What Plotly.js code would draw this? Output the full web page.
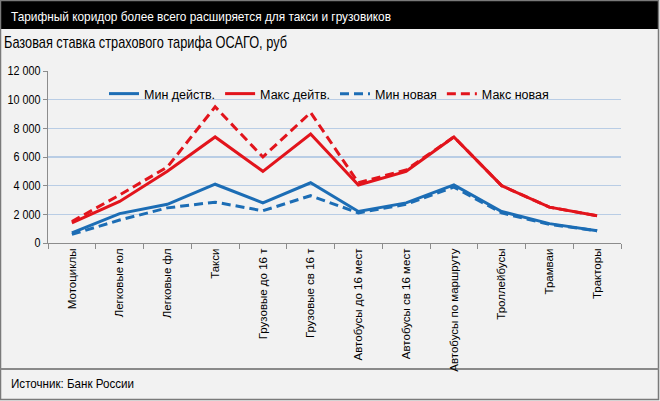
<!DOCTYPE html>
<html>
<head>
<meta charset="utf-8">
<script src="https://cdn.plot.ly/plotly-3.0.1.min.js"></script>
<style>
html,body{margin:0;padding:0;background:#f2f2f2;}
#chart{width:660px;height:401px;}
</style>
</head>
<body>
<div id="chart"></div>
<script>
const categories = ["Мотоциклы","Легковые юл","Легковые фл","Такси","Грузовые до 16 т","Грузовые св 16 т","Автобусы до 16 мест","Автобусы св 16 мест","Автобусы по маршруту","Троллейбусы","Трамваи","Тракторы"];
const minCurrent = [700, 2050, 2700, 4100, 2800, 4200, 2200, 2800, 4050, 2200, 1350, 850];
const maxCurrent = [1400, 2900, 5000, 7400, 5000, 7600, 4050, 5000, 7400, 4000, 2500, 1900];
const minNew = [600, 1600, 2450, 2850, 2250, 3300, 2100, 2700, 3900, 2100, 1300, 850];
const maxNew = [1500, 3350, 5300, 9500, 6000, 9100, 4200, 5100, 7400, 4000, 2500, 1900];
const seriesNames = ["Мин действ.", "Макс дейтв.", "Мин новая", "Макс новая"];
const titleText = "Тарифный коридор более всего расширяется для такси и грузовиков";
const subtitleText = "Базовая ставка страхового тарифа ОСАГО, руб";
const sourceText = "Источник: Банк России";

const W = 660, H = 401;
const L = 48, R = 621, T = 71, B = 243;
const px = x => (x - L) / (R - L);
const py = y => (B - y) / (B - T);

const sans = "Liberation Sans, Arial, sans-serif";
const blue = "#1c6db5", red = "#e2141c";

function tr(y, name, color, dash) {
  return {x: categories, y: y, name: name, type: "scatter", mode: "lines",
    line: {color: color, width: 3, dash: dash}, hoverinfo: "skip"};
}
const data = [
  tr(minCurrent, seriesNames[0], blue, "solid"),
  tr(maxCurrent, seriesNames[1], red, "solid"),
  tr(minNew, seriesNames[2], blue, "9px,5px"),
  tr(maxNew, seriesNames[3], red, "9px,5px")
];

const shapes = [
  {type:"rect", xref:"paper", yref:"paper", x0:px(0), x1:px(660), y0:py(0), y1:py(401), fillcolor:"#f2f2f2", line:{width:0}, layer:"below"},
  {type:"rect", xref:"paper", yref:"paper", x0:px(1), x1:px(659), y0:py(1), y1:py(29), fillcolor:"#000000", line:{width:0}, layer:"below"},
  {type:"rect", xref:"paper", yref:"paper", x0:px(0.5), x1:px(658.5), y0:py(0.5), y1:py(399.5), fillcolor:"rgba(0,0,0,0)", line:{color:"#7a7a7a", width:1.5}, layer:"below"},
  {type:"line", xref:"paper", yref:"paper", x0:px(0.5), x1:px(658.5), y0:py(369), y1:py(369), line:{color:"#8a8a8a", width:2}, layer:"below"}
];

const annotations = [
  {xref:"paper", yref:"paper", x:px(9), y:py(16), xanchor:"left", yanchor:"middle", align:"left", showarrow:false, text:titleText, font:{family:sans, size:13.5, color:"#ffffff"}},
  {xref:"paper", yref:"paper", x:px(2), y:py(43), xanchor:"left", yanchor:"middle", align:"left", showarrow:false, text:subtitleText, font:{family:sans, size:17, color:"#000000"}},
  {xref:"paper", yref:"paper", x:px(9), y:py(383), xanchor:"left", yanchor:"middle", align:"left", showarrow:false, text:sourceText, font:{family:sans, size:13.5, color:"#000000"}}
];
const annTargetWidths = [380, 283, 123];

const layout = {
  width: W, height: H,
  margin: {l: L, r: W - R, t: T, b: H - B, pad: 0},
  paper_bgcolor: "#f2f2f2", plot_bgcolor: "#f2f2f2",
  separators: ", ",
  showlegend: true,
  legend: {orientation: "h", x: px(104), y: py(94), xanchor: "left", yanchor: "middle",
    bgcolor: "rgba(0,0,0,0)", font: {family: sans, size: 12.5, color: "#000"}, itemwidth: 30, traceorder: "normal"},
  xaxis: {type: "category", range: [-0.5, 11.5], tickson: "boundaries", ticks: "outside", ticklen: 5, tickcolor: "#8c8c8c",
    showline: true, linecolor: "#8c8c8c", linewidth: 1, showgrid: false, tickangle: -90,
    tickfont: {family: sans, size: 11.5, color: "#000"}, fixedrange: true},
  yaxis: {range: [0, 12000], dtick: 2000, tickformat: ",d", ticks: "outside", ticklen: 4, tickcolor: "#8c8c8c",
    showline: true, linecolor: "#8c8c8c", linewidth: 1, showgrid: true, gridcolor: "#b9cde5", gridwidth: 1.3, zeroline: false,
    tickfont: {family: sans, size: 12, color: "#000"}, fixedrange: true},
  shapes: shapes,
  annotations: annotations
};

const gd = document.getElementById("chart");
Plotly.newPlot(gd, data, layout, {displayModeBar: false, staticPlot: true}).then(function () {
  gd.querySelectorAll(".annotation-text").forEach(function (t, i) {
    if (annTargetWidths[i]) {
      t.setAttribute("textLength", annTargetWidths[i]);
      t.setAttribute("lengthAdjust", "spacingAndGlyphs");
    }
  });
  gd.querySelectorAll(".ytick text").forEach(function (t) {
    const w = t.getComputedTextLength();
    t.setAttribute("textLength", (w * 0.9).toFixed(1));
    t.setAttribute("lengthAdjust", "spacingAndGlyphs");
  });
});
</script>
</body>
</html>
